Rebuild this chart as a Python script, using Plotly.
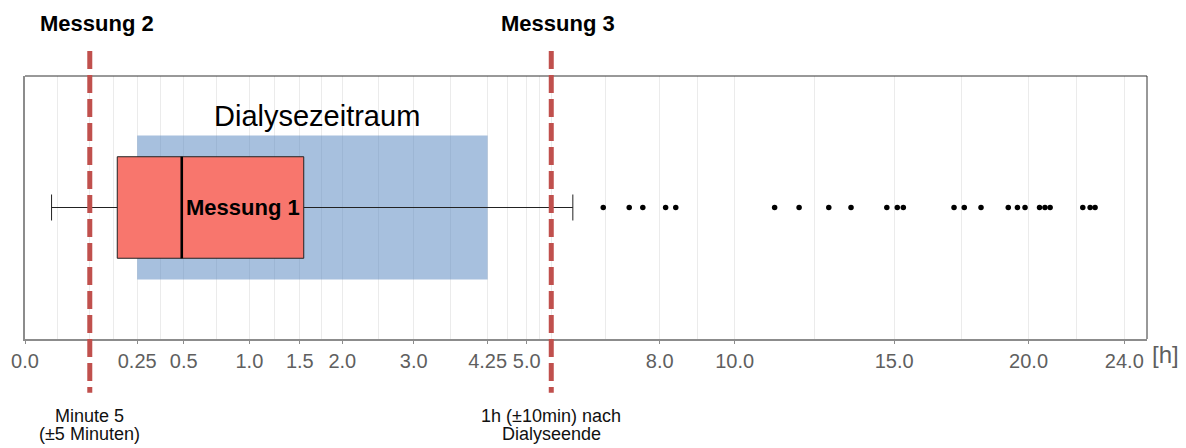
import numpy as np
import plotly.graph_objects as go

# Time axis breaks (hours) on a square-root scale; blank labels sit under the marker lines
breaks = [0.0, 5 / 60, 0.25, 0.5, 1.0, 1.5, 2.0, 3.0, 4.25, 5.0, 5.5, 8.0, 10.0, 15.0, 20.0, 24.0]
break_labels = ["0.0", "", "0.25", "0.5", "1.0", "1.5", "2.0", "3.0", "4.25", "5.0", "",
                "8.0", "10.0", "15.0", "20.0", "24.0"]
x_limits = [0.0, 25.0]

# Box plot summary of Messung 1 (hours)
lower_whisker = 0.014
q1 = 0.169
median = 0.488
q3 = 1.543
upper_whisker = 5.96
outliers = [6.64, 7.25, 7.58, 8.15, 8.41, 11.16, 11.90, 12.83, 13.55, 14.75, 15.11, 15.32,
            17.14, 17.52, 18.15, 19.20, 19.56, 19.86, 20.44, 20.66, 20.87, 22.22, 22.53, 22.74]

# Dialysis period and the two follow-up measurements (hours)
dialysis_window = [0.25, 4.25]
measurement_times = [5 / 60, 5.5]
measurement_names = ["Messung 2", "Messung 3"]
measurement_notes = [["Minute 5", "(±5 Minuten)"], ["1h (±10min) nach", "Dialyseende"]]


def tx(v):
    """Square-root transform used for the time axis."""
    return np.sqrt(np.asarray(v, dtype=float))


FONT = "Liberation Sans, Arial, sans-serif"
RED = "#C0504D"
GRID = "#EBEBEB"
AXIS = "#8C8C8C"
TICKTXT = "#5F5F5F"

box_half = 0.386      # half height of the box (y units)
window_half = 0.547   # half height of the dialysis band

major = tx(breaks)
minor = (major[:-1] + major[1:]) / 2

fig = go.Figure()

fig.add_trace(go.Box(
    y=[0], orientation="h",
    q1=[float(tx(q1))], median=[float(tx(median))], q3=[float(tx(q3))],
    lowerfence=[float(tx(lower_whisker))], upperfence=[float(tx(upper_whisker))],
    width=2 * box_half, whiskerwidth=0.256,
    fillcolor="#F8766D", line=dict(color="#222222", width=1),
    boxpoints=False, hoverinfo="skip", showlegend=False,
))

fig.add_trace(go.Scatter(
    x=tx(outliers), y=[0] * len(outliers), mode="markers",
    marker=dict(color="black", size=5.5), hoverinfo="skip", showlegend=False,
))

shapes = []
# dialysis band
shapes.append(dict(type="rect", xref="x", yref="y", layer="between",
                   x0=float(tx(dialysis_window[0])), x1=float(tx(dialysis_window[1])),
                   y0=-window_half, y1=window_half,
                   fillcolor="rgba(79,129,189,0.5)", line=dict(width=0)))
# thick median line
shapes.append(dict(type="line", xref="x", yref="y", layer="above",
                   x0=float(tx(median)), x1=float(tx(median)), y0=-box_half, y1=box_half,
                   line=dict(color="black", width=2.6)))
# top and right panel border
shapes.append(dict(type="line", xref="paper", yref="paper", x0=0, x1=1, y0=1, y1=1,
                   line=dict(color="#333333", width=1)))
shapes.append(dict(type="line", xref="paper", yref="paper", x0=1, x1=1, y0=0, y1=1,
                   line=dict(color="#333333", width=1)))
# measurement marker lines
for t in measurement_times:
    shapes.append(dict(type="line", xref="x", yref="paper", layer="above",
                       x0=float(tx(t)), x1=float(tx(t)), y0=1.095, y1=-0.204,
                       line=dict(color=RED, width=5, dash="18px,6px")))

annotations = []
for t, name, note in zip(measurement_times, measurement_names, measurement_notes):
    annotations.append(dict(x=float(tx(t)), xref="x", y=1.201, yref="paper",
                            text=f"<b>{name}</b>", showarrow=False, xshift=7,
                            xanchor="center", yanchor="middle",
                            font=dict(family=FONT, size=22, color="black")))
    for i, line in enumerate(note):
        annotations.append(dict(x=float(tx(t)), xref="x", y=-0.291 - 0.07 * i, yref="paper",
                                text=line, showarrow=False,
                                xanchor="center", yanchor="middle",
                                font=dict(family=FONT, size=18, color="#111111")))

annotations.append(dict(x=float(tx(dialysis_window).mean()), xref="x", y=0.697, yref="y",
                        text="Dialysezeitraum", showarrow=False, xshift=5,
                        xanchor="center", yanchor="middle",
                        font=dict(family=FONT, size=29, color="black")))
annotations.append(dict(x=float(tx(median)), xref="x", y=0, yref="y",
                        text="<b>Messung 1</b>", showarrow=False, xshift=2,
                        xanchor="left", yanchor="middle",
                        font=dict(family=FONT, size=22, color="black")))
annotations.append(dict(x=1.0163, xref="paper", y=-0.06, yref="paper",
                        text="[h]", showarrow=False, xanchor="center", yanchor="middle",
                        font=dict(family=FONT, size=24, color=TICKTXT)))

fig.update_layout(
    width=1186, height=448,
    margin=dict(l=25, r=39, t=76, b=109),
    paper_bgcolor="white", plot_bgcolor="white",
    shapes=shapes, annotations=annotations,
    xaxis=dict(
        range=[float(tx(x_limits[0])), float(tx(x_limits[1]))],
        tickvals=major, ticktext=break_labels, tickangle=0,
        showgrid=True, gridcolor=GRID, gridwidth=1, zeroline=False,
        showline=True, linecolor=AXIS, linewidth=2,
        ticks="outside", ticklen=3, tickcolor=AXIS, tickwidth=1,
        tickfont=dict(family=FONT, size=20, color=TICKTXT),
        minor=dict(tickvals=minor, showgrid=True, gridcolor=GRID, gridwidth=1, ticks=""),
    ),
    yaxis=dict(
        range=[-1, 1], type="linear", showticklabels=False, showgrid=False, zeroline=False,
        showline=True, linecolor=AXIS, linewidth=2, ticks="",
    ),
)

fig.write_html("out.html")
